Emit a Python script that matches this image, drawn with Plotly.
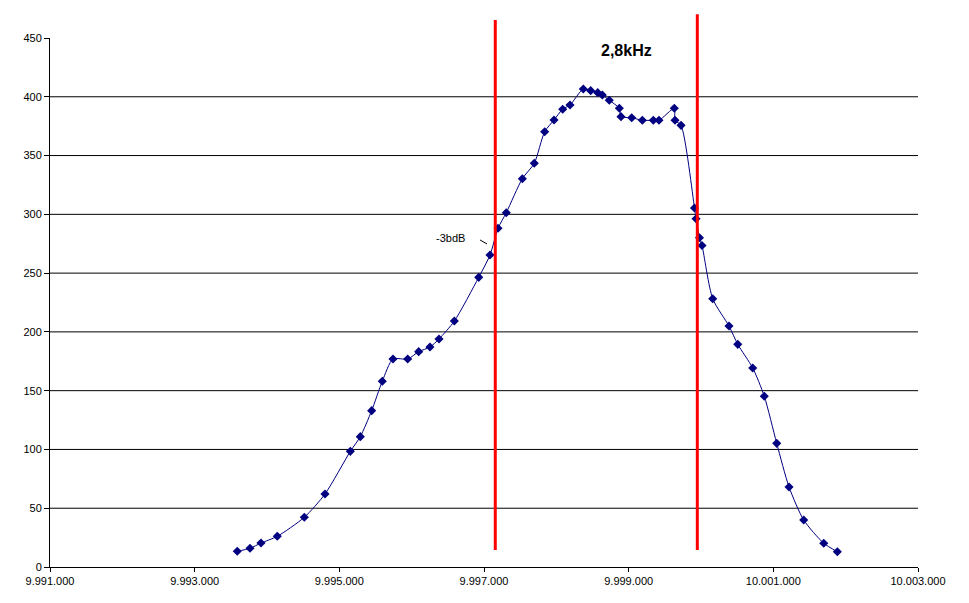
import plotly.graph_objects as go

# Frequency (Hz) and amplitude values
freq = [9993589, 9993765, 9993917, 9994142, 9994516, 9994802, 9995152, 9995290,
        9995447, 9995594, 9995742, 9995945, 9996097, 9996253, 9996378, 9996590,
        9996927, 9997083, 9997194, 9997308, 9997530, 9997695, 9997839, 9997968,
        9998088, 9998189, 9998373, 9998475, 9998572, 9998636, 9998732, 9998871,
        9998894, 9999042, 9999189, 9999341, 9999419, 9999631, 9999641, 9999724,
        9999910, 9999931, 9999979, 10000014, 10000162, 10000387, 10000508, 10000715,
        10000875, 10001047, 10001217, 10001420, 10001697, 10001885]
amp = [13.4, 15.9, 20.4, 26.1, 42.3, 62.1, 98.4, 110.9,
       133.0, 158.0, 176.9, 176.9, 183.2, 187.1, 194.0, 209.2,
       246.4, 265.4, 288.1, 301.4, 330.3, 343.4, 370.3, 380.3,
       389.4, 393.0, 406.6, 405.2, 403.5, 401.5, 397.0, 390.2,
       383.1, 382.2, 380.0, 380.0, 380.0, 390.2, 380.0, 375.7,
       305.4, 296.3, 280.1, 273.5, 228.2, 205.0, 189.4, 169.3,
       145.2, 105.2, 68.1, 40.0, 20.2, 13.0]

x_ticks = [9991000, 9993000, 9995000, 9997000, 9999000, 10001000, 10003000]
y_ticks = [0, 50, 100, 150, 200, 250, 300, 350, 400, 450]
grid_vals = [50, 100, 150, 200, 250, 300, 350, 400]

bw_edges = [9997156, 9999949]   # -3 dB edges (red markers)
bw_tops = [1.034, 1.045]
bw_label = "2,8kHz"
db_label = "-3bdB"

fig = go.Figure()
fig.add_trace(go.Scatter(
    x=freq, y=amp, mode="lines+markers",
    line=dict(color="#000080", width=1, shape="spline", smoothing=0.7),
    marker=dict(symbol="diamond", size=7, color="#000080"),
    showlegend=False, hoverinfo="x+y"))

shapes = []
for g in grid_vals:
    shapes.append(dict(type="line", xref="paper", yref="y", x0=0, x1=1, y0=g, y1=g,
                       line=dict(color="black", width=1), layer="below"))
for xe, top in zip(bw_edges, bw_tops):
    shapes.append(dict(type="line", xref="x", yref="paper", x0=xe, x1=xe, y0=0.032, y1=top,
                       line=dict(color="#FF0000", width=3), layer="above"))
# leader line for the -3dB label
shapes.append(dict(type="line", xref="x", yref="y", x0=9996945, x1=9997041, y0=278.2, y1=274.8,
                   line=dict(color="black", width=1)))

fig.update_layout(
    width=953, height=587,
    margin=dict(l=42, r=43, t=30, b=28, autoexpand=False),
    paper_bgcolor="white", plot_bgcolor="white",
    separators=",.",
    font=dict(family="Arial, Liberation Sans, sans-serif", size=11, color="black"),
    shapes=shapes,
    annotations=[
        dict(x=9998973, y=439.2, xref="x", yref="y", text="<b>" + bw_label + "</b>",
             showarrow=False, font=dict(size=16, color="black")),
        dict(x=9996530, y=279.9, xref="x", yref="y", text=db_label,
             showarrow=False, font=dict(size=11, color="black")),
    ],
    xaxis=dict(range=[9991000, 10003000], tickvals=x_ticks, tickformat=",d",
               showgrid=False, zeroline=False, showline=True, linecolor="black", linewidth=1,
               ticks="outside", ticklen=4, tickcolor="black",
               tickfont=dict(size=11)),
    yaxis=dict(range=[0, 450], tickvals=y_ticks, showgrid=False, zeroline=False,
               showline=True, linecolor="black", linewidth=1,
               ticks="outside", ticklen=5, tickcolor="black",
               tickfont=dict(size=11)),
)

fig.write_html("out.html")
